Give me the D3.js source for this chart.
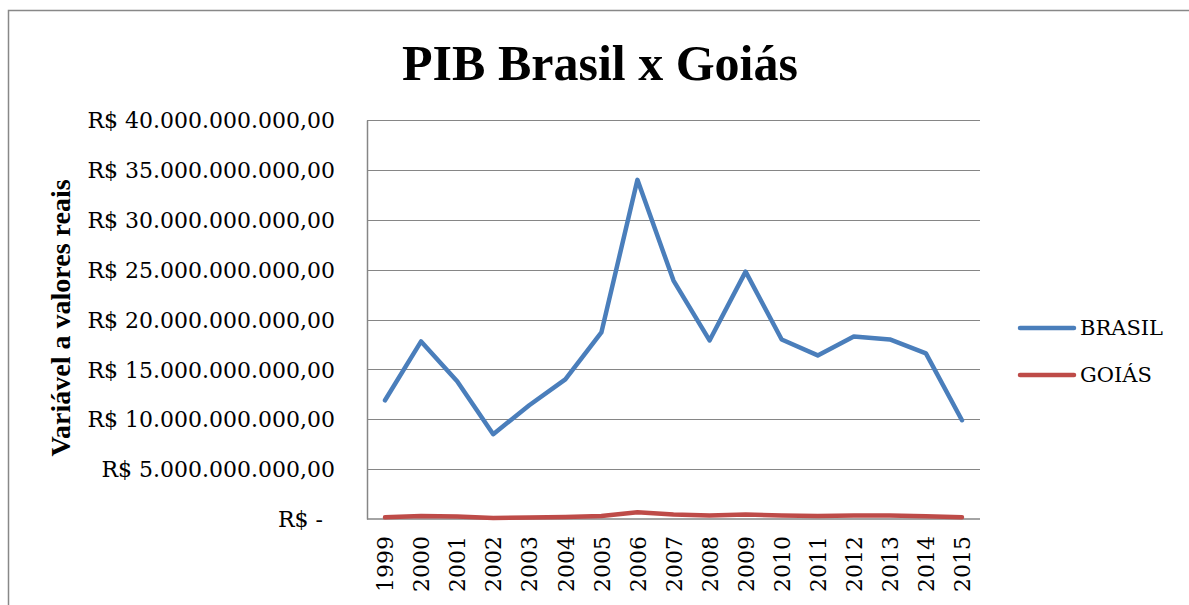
<!DOCTYPE html>
<html>
<head>
<meta charset="utf-8">
<script src="https://cdnjs.cloudflare.com/ajax/libs/d3/7.8.5/d3.min.js"></script>
<style>
	body { margin: 0; background: white; }
	text { font-family: "DejaVu Serif", serif; fill: #000; }
	.titulo { font-family: "Liberation Serif", serif; }
</style>
</head>
<body>
<svg id="chart" width="1189" height="605"></svg>
<script>
// dados (valores em R$)
var years = ["1999", "2000", "2001", "2002", "2003", "2004", "2005", "2006", "2007",
	"2008", "2009", "2010", "2011", "2012", "2013", "2014", "2015"];
var brasil = [11.9e9, 17.8e9, 13.8e9, 8.5e9, 11.4e9, 14.0e9, 18.7e9, 34.0e9, 23.9e9,
	17.9e9, 24.8e9, 18.0e9, 16.4e9, 18.3e9, 18.0e9, 16.6e9, 9.9e9];
var goias = [0.17e9, 0.3e9, 0.25e9, 0.1e9, 0.15e9, 0.2e9, 0.3e9, 0.67e9, 0.45e9,
	0.35e9, 0.45e9, 0.35e9, 0.3e9, 0.35e9, 0.35e9, 0.28e9, 0.17e9];
var yTicks = [0, 5e9, 10e9, 15e9, 20e9, 25e9, 30e9, 35e9, 40e9];
var seriesNames = ["BRASIL", "GOIÁS"];
var colors = ["#4a7ebb", "#be4b48"];

window.onload = init;

function init() {
	var svg = d3.select("#chart");
	var margin = { left: 367, right: 209, top: 120, bottom: 86 };
	var w = 1189, h = 605;

	// moldura externa
	svg.append("rect")
		.attr("x", 8.5).attr("y", 10.5)
		.attr("width", w).attr("height", h)
		.attr("fill", "none")
		.attr("stroke", "#888")
		.attr("stroke-width", 1.5);

	var x = d3.scalePoint()
		.domain(years)
		.range([margin.left, w - margin.right])
		.padding(0.5);
	var y = d3.scaleLinear()
		.domain([0, 40e9])
		.range([h - margin.bottom, margin.top]);

	function fmt(v) {
		if (v === 0) return "R$ -";
		var s = d3.format(",.2f")(v);
		s = s.replace(/,/g, "#").replace(".", ",").replace(/#/g, ".");
		return "R$ " + s;
	}

	// grade
	svg.append("g").attr("class", "grid")
		.selectAll("line")
		.data(yTicks.filter(function(d) { return d > 0; }))
		.enter().append("line")
		.attr("x1", margin.left)
		.attr("x2", w - margin.right)
		.attr("y1", function(d) { return Math.round(y(d)) + 0.5; })
		.attr("y2", function(d) { return Math.round(y(d)) + 0.5; })
		.attr("stroke", "#868686")
		.attr("stroke-width", 1);

	// eixo y
	var yAxis = d3.axisLeft(y).tickValues(yTicks).tickFormat(fmt).tickSize(0).tickPadding(32);
	var gy = svg.append("g").attr("class", "y-axis")
		.attr("transform", "translate(" + margin.left + ",0)")
		.call(yAxis);
	gy.select(".domain").attr("stroke", "#868686").attr("stroke-width", 1.5);
	gy.selectAll("text")
		.style("font-size", "22px")
		.attr("dy", "0.35em")
		.attr("x", function(d) { return d === 0 ? -44 : -32; });

	// eixo x
	var xAxis = d3.axisBottom(x).tickSize(0);
	var gx = svg.append("g").attr("class", "x-axis")
		.attr("transform", "translate(0," + (h - margin.bottom) + ")")
		.call(xAxis);
	gx.select(".domain").attr("stroke", "#868686").attr("stroke-width", 1.5)
		.attr("d", "M" + margin.left + ",0H" + (w - margin.right));
	gx.selectAll("text")
		.style("font-size", "22px")
		.attr("transform", "rotate(-90)")
		.attr("text-anchor", "end")
		.attr("x", -17)
		.attr("y", 0)
		.attr("dy", "0.35em");

	// linhas
	var line = d3.line()
		.x(function(d, i) { return x(years[i]); })
		.y(function(d) { return y(d); });
	[brasil, goias].forEach(function(s, i) {
		svg.append("path")
			.datum(s)
			.attr("d", line)
			.attr("fill", "none")
			.attr("stroke", colors[i])
			.attr("stroke-width", 4.5)
			.attr("stroke-linejoin", "round")
			.attr("stroke-linecap", "round");
	});

	// título
	svg.append("text")
		.attr("class", "titulo")
		.attr("x", 600).attr("y", 80)
		.attr("text-anchor", "middle")
		.style("font-size", "50px")
		.style("font-weight", "bold")
		.text("PIB Brasil x Goiás");

	// título do eixo y
	svg.append("text")
		.attr("class", "titulo")
		.attr("transform", "translate(70,318) rotate(-90)")
		.attr("text-anchor", "middle")
		.style("font-size", "28px")
		.style("font-weight", "bold")
		.text("Variável a valores reais");

	// legenda
	var leg = svg.append("g").attr("class", "legend");
	seriesNames.forEach(function(n, i) {
		var ly = 328 + i * 47;
		leg.append("line")
			.attr("x1", 1020).attr("x2", 1074)
			.attr("y1", ly).attr("y2", ly)
			.attr("stroke", colors[i])
			.attr("stroke-width", 4.5)
			.attr("stroke-linecap", "round");
		leg.append("text")
			.attr("x", 1080).attr("y", ly)
			.attr("dy", "0.35em")
			.style("font-size", "21px")
			.text(n);
	});
}
</script>
</body>
</html>
